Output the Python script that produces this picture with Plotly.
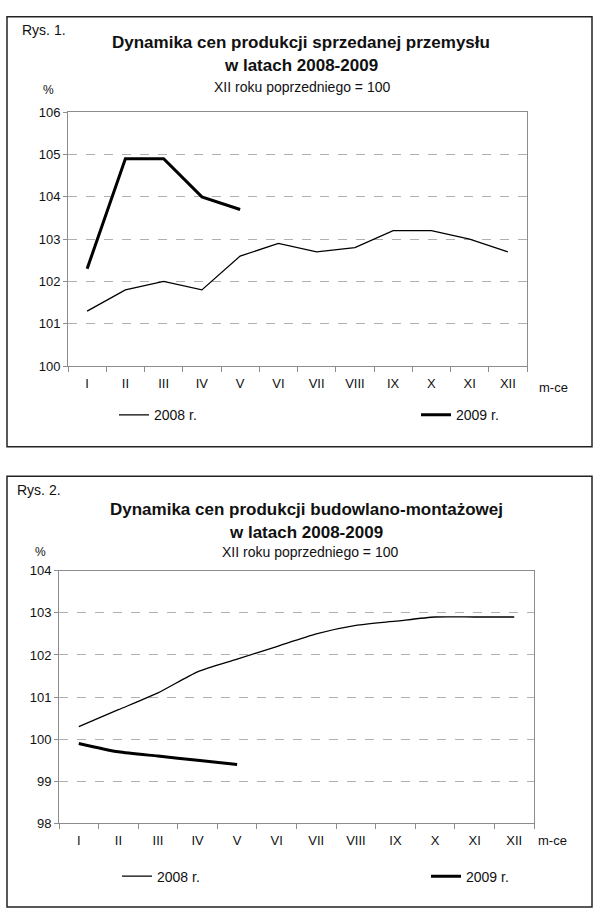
import plotly.graph_objects as go

months = ["I", "II", "III", "IV", "V", "VI", "VII", "VIII", "IX", "X", "XI", "XII"]
months_2009 = months[:5]

ind_2008 = [101.3, 101.8, 102.0, 101.8, 102.6, 102.9, 102.7, 102.8, 103.2, 103.2, 103.0, 102.7]
ind_2009 = [102.3, 104.9, 104.9, 104.0, 103.7]

bud_2008 = [100.3, 100.7, 101.1, 101.6, 101.9, 102.2, 102.5, 102.7, 102.8, 102.9, 102.9, 102.9]
bud_2009 = [99.9, 99.7, 99.6, 99.5, 99.4]

W, H = 600, 921
FONT = "Liberation Sans, Arial, sans-serif"


def px(x):
    return x / W


def py(y):
    return 1 - y / H


fig = go.Figure()

# Panel 1
fig.add_trace(go.Scatter(x=months, y=ind_2008, mode="lines", name="2008 r.",
                         line=dict(color="black", width=1.3), xaxis="x", yaxis="y",
                         legend="legend", showlegend=True))
fig.add_trace(go.Scatter(x=months_2009, y=ind_2009, mode="lines", name="2009 r.",
                         line=dict(color="black", width=3), xaxis="x", yaxis="y",
                         legend="legend2", showlegend=True))
# Panel 2
fig.add_trace(go.Scatter(x=months, y=bud_2008, mode="lines", name="2008 r.",
                         line=dict(color="black", width=1.3, shape="spline", smoothing=0.6),
                         xaxis="x2", yaxis="y2", legend="legend3", showlegend=True))
fig.add_trace(go.Scatter(x=months_2009, y=bud_2009, mode="lines", name="2009 r.",
                         line=dict(color="black", width=3, shape="spline", smoothing=0.6),
                         xaxis="x2", yaxis="y2", legend="legend4", showlegend=True))

axis_common_x = dict(
    type="category", categoryorder="array", categoryarray=months,
    range=[-0.5, 11.5], showgrid=False, showline=True, linecolor="#8c8c8c",
    linewidth=1, mirror=True, ticks="outside", tickson="boundaries", ticklen=5,
    tickcolor="#8c8c8c", tickfont=dict(family=FONT, size=13, color="#111"),
    ticklabelstandoff=5, zeroline=False, fixedrange=True,
)
axis_common_y = dict(
    showgrid=True, gridcolor="#b0b0b0", griddash="dash", gridwidth=1,
    showline=True, linecolor="#8c8c8c", linewidth=1, mirror=True,
    ticks="outside", ticklen=4, tickcolor="#8c8c8c",
    tickfont=dict(family=FONT, size=13, color="#111"), dtick=1,
    zeroline=False, fixedrange=True,
)

fig.update_layout(
    width=W, height=H, margin=dict(l=0, r=0, t=0, b=0),
    paper_bgcolor="white", plot_bgcolor="white", showlegend=True,
    font=dict(family=FONT, color="#111"),
    xaxis=dict(domain=[px(68), px(527)], anchor="y", **axis_common_x),
    yaxis=dict(domain=[py(365), py(107)], anchor="x", range=[100, 106], **axis_common_y),
    xaxis2=dict(domain=[px(59), px(534)], anchor="y2", **axis_common_x),
    yaxis2=dict(domain=[py(830), py(573)], anchor="x2", range=[98, 104], **axis_common_y),
)

leg_common = dict(orientation="h", bgcolor="rgba(0,0,0,0)", itemwidth=30,
                  font=dict(family=FONT, size=14, color="#111"),
                  xanchor="left", yanchor="middle", tracegroupgap=0)
fig.update_layout(
    legend=dict(x=px(114), y=py(415), **leg_common),
    legend2=dict(x=px(416), y=py(415), **leg_common),
    legend3=dict(x=px(117), y=py(884), **leg_common),
    legend4=dict(x=px(426), y=py(884), **leg_common),
)

shapes = [
    dict(type="rect", xref="paper", yref="paper", x0=px(7), x1=px(592), y0=py(447), y1=py(10),
         line=dict(color="#222", width=1.5)),
    dict(type="rect", xref="paper", yref="paper", x0=px(7), x1=px(592), y0=py(915), y1=py(477),
         line=dict(color="#222", width=1.5)),
]
fig.update_layout(shapes=shapes)


def ann(text, x, y, size, bold=False, xanchor="center"):
    return dict(text=f"<b>{text}</b>" if bold else text, x=px(x), y=py(y), xref="paper",
                yref="paper", showarrow=False, xanchor=xanchor, yanchor="middle",
                font=dict(family=FONT, size=size, color="#111"))


annotations = [
    ann("Rys. 1.", 20, 23, 14, xanchor="left"),
    ann("Dynamika cen produkcji sprzedanej przemysłu", 301, 36, 17, bold=True),
    ann("w latach 2008-2009", 301, 59, 17, bold=True),
    ann("XII roku poprzedniego = 100", 302, 81, 14),
    ann("%", 48, 84, 12),
    ann("m-ce", 553, 387, 13),
    ann("Rys. 2.", 15, 491, 14, xanchor="left"),
    ann("Dynamika cen produkcji budowlano-montażowej", 306, 511, 17, bold=True),
    ann("w latach 2008-2009", 306, 534, 17, bold=True),
    ann("XII roku poprzedniego = 100", 310, 554, 14),
    ann("%", 40, 554, 12),
    ann("m-ce", 552, 847, 13),
]
fig.update_layout(annotations=annotations)

fig.write_html("out.html", config={"displayModeBar": False},
               post_script="document.body.style.margin='0px';")
